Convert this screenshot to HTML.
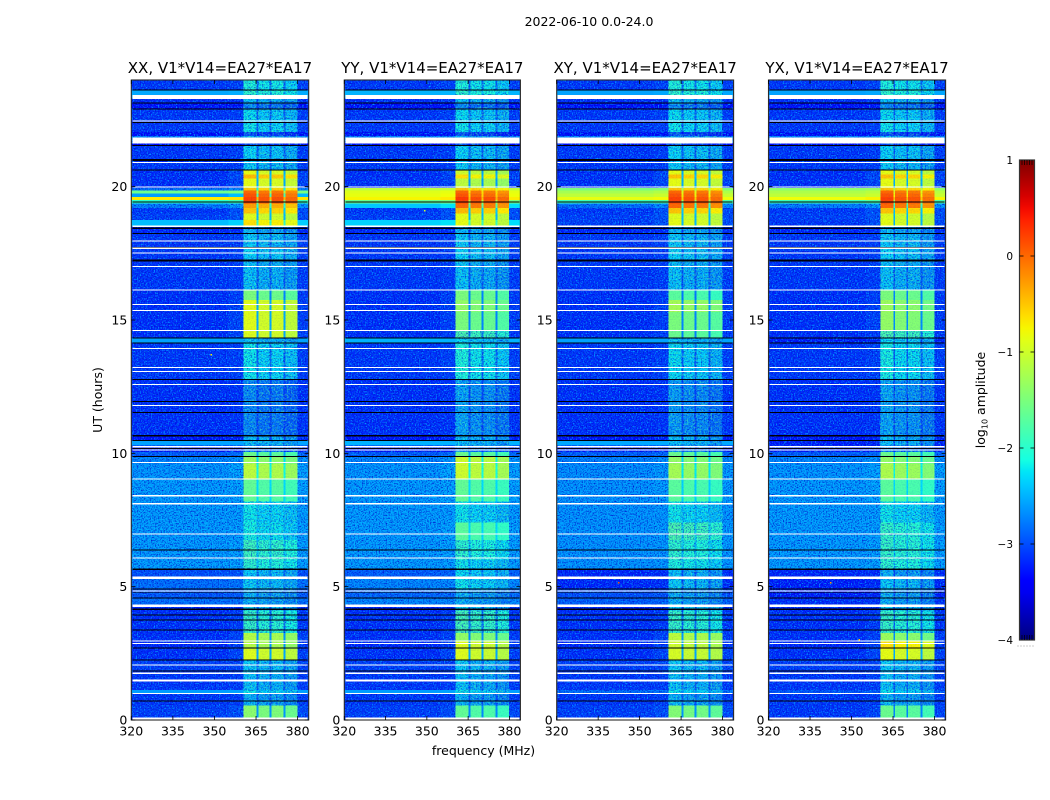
<!DOCTYPE html>
<html lang="en">
<head>
<meta charset="utf-8">
<title>2022-06-10 0.0-24.0</title>
<style>
html,body{margin:0;padding:0;background:#fff;width:1050px;height:800px;overflow:hidden}
svg{display:block}
text{font-family:"DejaVu Sans","Liberation Sans",sans-serif;fill:#000}
</style>
</head>
<body>
<svg id="figure" xmlns="http://www.w3.org/2000/svg" width="1050" height="800" viewBox="0 0 1050 800">
  <defs>
    <filter id="speck-light" x="0" y="0" width="1" height="1" color-interpolation-filters="sRGB">
      <feTurbulence type="fractalNoise" baseFrequency="0.72" numOctaves="2" seed="3"/>
      <feColorMatrix type="matrix" values="0 0 0 0 0  0 0 0 0 0.62  0 0 0 0 1  3.6 0 0 0 -1.7" />
    </filter>
    <filter id="speck-dark" x="0" y="0" width="1" height="1" color-interpolation-filters="sRGB">
      <feTurbulence type="fractalNoise" baseFrequency="0.72" numOctaves="2" seed="11"/>
      <feColorMatrix type="matrix" values="0 0 0 0 0  0 0 0 0 0.05  0 0 0 0 0.8  2.4 0 0 0 -1.05" />
    </filter>
    <filter id="speck-green" x="0" y="0" width="1" height="1" color-interpolation-filters="sRGB">
      <feTurbulence type="fractalNoise" baseFrequency="0.55" numOctaves="2" seed="23"/>
      <feColorMatrix type="matrix" values="0 0 0 0 0.3  0 0 0 0 1  0 0 0 0 0.65  3.4 0 0 0 -1.55" />
    </filter>
    <linearGradient id="jet-gradient" x1="0" y1="1" x2="0" y2="0"></linearGradient>
  </defs>
  <rect x="0" y="0" width="1050" height="800" fill="#fff"/>
  <text x="589" y="26" font-size="12.5" text-anchor="middle">2022-06-10 0.0-24.0</text>
  <text transform="translate(102 400) rotate(-90)" font-size="12.5" text-anchor="middle">UT (hours)</text>
  <text x="483.5" y="755" font-size="12.5" text-anchor="middle">frequency (MHz)</text>
  <g id="panels"></g>
  <g id="colorbar"></g>
  <text transform="translate(985 400) rotate(-90)" font-size="12.5" text-anchor="middle">log<tspan font-size="8" dy="2.5">10</tspan><tspan dy="-2.5"> amplitude</tspan></text>
</svg>
<script>
// ---- chart data (log10 amplitude) ----
const panelTitles = ['XX, V1*V14=EA27*EA17','YY, V1*V14=EA27*EA17','XY, V1*V14=EA27*EA17','YX, V1*V14=EA27*EA17'];
const xTicks = [320,335,350,365,380];
const yTicks = [0,5,10,15,20];
const colorbarTicks = [-4,-3,-2,-1,0,1];

// time-segment edges in hours (one more entry than the level arrays)
const hourEdges = [0,0.55,0.71,1.0,1.13,1.85,2.25,2.67,2.97,3.27,4.1,4.3,4.58,4.92,5.3,5.65,6.0,6.75,7.4,8.2,9.05,9.6,9.88,10.05,10.3,10.48,10.66,12.77,14.16,14.32,14.62,15.3,15.75,16.1,17.24,17.7,18.25,18.5,18.75,19.0,19.2,19.37,19.5,19.62,19.75,19.85,19.95,20.3,20.45,20.63,21.0,21.54,21.63,21.9,22.05,22.4,22.92,23.13,23.3,23.6,24];

// off-band background level per segment
const bgXX = [-3.1,-3.15,-3.15,-2.6,-3.15,-3.1,-3.2,-3.25,-3.2,-3.2,-3.25,-2.8,-2.95,-2.8,-3.0,-2.52,-2.52,-2.52,-2.52,-2.52,-2.55,-2.65,-2.9,-3.3,-2.58,-3.35,-3.2,-3.15,-2.58,-3.2,-3.2,-3.2,-3.2,-3.15,-3.15,-3.15,-3.25,-2.45,-3.1,-3.15,-2.7,-2.0,-0.7,-2.6,-1.6,-2.8,-3.2,-3.2,-3.2,-3.15,-3.15,-3.4,-2.65,-3.4,-3.15,-3.15,-3.4,-3.2,-2.55,-3.15];
const bgYY = [-3.1,-3.15,-3.15,-2.6,-3.15,-3.1,-3.2,-3.25,-3.2,-3.2,-3.25,-2.65,-2.85,-2.65,-2.9,-2.52,-2.52,-2.52,-2.52,-2.52,-2.55,-2.65,-2.9,-3.3,-2.5,-3.35,-3.2,-3.15,-2.5,-3.2,-3.2,-3.2,-3.2,-3.15,-3.15,-3.15,-3.25,-2.35,-3.1,-3.15,-2.4,-1.6,-0.75,-0.85,-0.9,-1.1,-3.2,-3.2,-3.2,-3.15,-3.15,-3.4,-2.65,-3.4,-3.15,-3.15,-3.4,-3.2,-2.5,-3.15];
const bgXY = [-3.1,-3.15,-3.15,-2.8,-3.15,-3.1,-3.2,-3.25,-3.2,-3.2,-3.25,-2.9,-3.0,-3.25,-3.25,-2.57,-2.57,-2.57,-2.57,-2.57,-2.6,-2.68,-2.9,-3.3,-2.55,-3.35,-3.2,-3.15,-2.58,-3.2,-3.2,-3.2,-3.2,-3.15,-3.15,-3.15,-3.25,-3.1,-3.1,-3.15,-2.8,-1.9,-0.85,-1.1,-1.25,-1.5,-3.2,-3.2,-3.2,-3.15,-3.15,-3.4,-2.65,-3.4,-3.15,-3.15,-3.4,-3.2,-2.58,-3.15];
const bgYX = [-3.15,-3.15,-3.15,-2.95,-3.15,-3.1,-3.2,-3.25,-3.2,-3.2,-3.25,-3.2,-3.3,-3.3,-3.25,-2.52,-2.52,-2.52,-2.52,-2.52,-2.55,-2.65,-2.9,-3.3,-3.3,-3.35,-3.2,-3.15,-3.3,-3.2,-3.2,-3.2,-3.2,-3.15,-3.15,-3.15,-3.25,-3.15,-3.1,-3.15,-2.7,-1.9,-0.8,-1.1,-1.2,-1.4,-3.2,-3.2,-3.2,-3.15,-3.15,-3.4,-2.65,-3.4,-3.15,-3.15,-3.4,-3.2,-2.58,-3.15];

// 360-380 MHz band level per segment
const bandXX = [-1.5,-2.55,-2.6,-2.3,-2.5,-2.45,-1.0,-1.25,-1.25,-2.05,-2.45,-2.6,-2.6,-2.45,-2.45,-2.1,-2.0,-2.25,-2.3,-1.75,-1.2,-1.4,-1.7,-2.8,-2.5,-2.5,-2.8,-2.3,-2.5,-1.0,-0.98,-0.98,-1.6,-2.5,-2.4,-2.45,-2.55,-0.75,-1.0,-0.6,-0.4,0.1,0.1,0.0,-0.1,-0.6,-0.95,-0.55,-0.95,-2.45,-2.4,-3.1,-2.6,-3.1,-2.3,-2.35,-2.8,-2.5,-2.1,-2.2];
const bandYY = [-1.75,-2.55,-2.6,-2.3,-2.5,-2.45,-1.0,-1.0,-1.45,-1.95,-2.45,-2.6,-2.6,-2.3,-2.35,-2.3,-2.1,-1.8,-2.3,-1.75,-1.1,-1.1,-1.7,-2.8,-2.5,-2.5,-2.65,-2.2,-2.4,-1.9,-1.6,-1.45,-1.6,-2.5,-2.4,-2.45,-2.55,-0.95,-0.95,-0.55,-0.1,0.1,0.15,0.0,-0.1,-0.6,-1.2,-0.75,-1.1,-2.45,-2.4,-3.1,-2.6,-3.1,-2.3,-2.35,-2.8,-2.5,-2.1,-2.2];
const bandXY = [-1.55,-2.55,-2.6,-2.3,-2.5,-2.45,-1.05,-1.1,-1.2,-2.05,-2.45,-2.6,-2.6,-2.45,-2.5,-2.2,-2.1,-1.9,-2.3,-1.8,-1.35,-1.45,-1.7,-2.8,-2.5,-2.5,-2.7,-2.35,-2.5,-1.7,-1.6,-1.35,-1.8,-2.5,-2.4,-2.45,-2.55,-0.95,-1.0,-0.6,-0.1,0.1,0.1,0.0,-0.1,-0.6,-0.95,-0.6,-0.95,-2.45,-2.4,-3.1,-2.6,-3.1,-2.3,-2.35,-2.8,-2.5,-2.1,-2.2];
const bandYX = [-1.7,-2.55,-2.6,-2.3,-2.5,-2.45,-0.95,-0.75,-1.4,-2.05,-2.45,-2.6,-2.6,-2.45,-2.6,-2.1,-2.05,-2.05,-2.3,-1.8,-1.3,-1.45,-1.7,-2.8,-2.5,-2.5,-2.65,-2.25,-2.35,-1.9,-1.45,-1.4,-1.6,-2.5,-2.4,-2.45,-2.55,-0.95,-1.0,-0.6,-0.1,0.1,0.1,0.0,-0.1,-0.6,-0.95,-0.6,-0.95,-2.45,-2.4,-3.1,-2.6,-3.1,-2.3,-2.35,-2.8,-2.5,-2.1,-2.2];

// per-sub-band level offsets per panel
const subbandOffsetXX = [0.1,0.0,0.02,-0.1];
const subbandOffsetYY = [0.1,0.0,-0.02,-0.15];
const subbandOffsetXY = [0.1,0.02,0.0,-0.12];
const subbandOffsetYX = [0.1,0.0,0.0,-0.15];

// flagged (blank) and near-zero (black) integrations: hour centre, duration
const flaggedHours = [0.045,0.995,1.48,1.75,2.065,2.87,2.97,4.28,4.84,5.33,6.08,6.98,8.11,8.41,9.03,9.65,10.12,10.25,11.79,12.58,13.07,13.22,13.93,14.61,15.36,15.58,16.13,17.01,17.52,17.69,17.97,18.52,19.98,20.9,21.74,22.47,23.36];
const flaggedWidths = [0.09,0.05,0.07,0.05,0.05,0.04,0.04,0.1,0.05,0.1,0.04,0.04,0.04,0.04,0.04,0.04,0.04,0.05,0.04,0.04,0.04,0.04,0.05,0.04,0.04,0.04,0.04,0.04,0.04,0.04,0.04,0.06,0.04,0.04,0.225,0.04,0.15];
const darkHours = [0.71,1.84,2.25,2.70,3.38,3.755,3.94,4.15,4.58,4.77,4.92,5.65,6.38,9.88,10.18,10.48,10.66,11.53,11.94,12.77,14.13,14.33,17.24,17.72,18.25,18.44,19.43,20.63,21.0,21.54,22.4,22.92,23.13,23.62];
const darkWidths = [0.04,0.04,0.05,0.04,0.04,0.03,0.035,0.06,0.04,0.03,0.04,0.06,0.04,0.04,0.04,0.04,0.04,0.04,0.04,0.04,0.04,0.04,0.075,0.04,0.04,0.04,0.045,0.04,0.06,0.04,0.04,0.04,0.04,0.04];

// isolated bright pixels: panel index, MHz, hour, level
const spotPanels = [0,2,3,3,1];
const spotFreqs = [348.5,342.1,342.2,352.5,349];
const spotHours = [13.7,5.15,5.15,3.0,19.1];
const spotLevels = [-0.7,0.1,-0.3,-0.5,-1.0];

// ---- axis functions & geometry ----
const NS = 'http://www.w3.org/2000/svg';
const bgSeries = [bgXX,bgYY,bgXY,bgYX];
const bandSeries = [bandXX,bandYY,bandXY,bandYX];
const offsetSeries = [subbandOffsetXX,subbandOffsetYY,subbandOffsetXY,subbandOffsetYX];
const panelBoxes = [{l:131.3,r:308.7},{l:344.3,r:520.4},{l:556.7,r:733.6},{l:768.5,r:945.6}];
const plotTop = 80, plotBottom = 720;
const freqMin = 320, freqMax = 384, hourMax = 24;
const smoothBgLimit = -2.62, smoothBandLimit = -1.85;
const speckledSpan = [5.65, 9.88];
const yOf = h => plotBottom - (h / hourMax) * (plotBottom - plotTop);
const xOf = (box, f) => box.l + (f - freqMin) / (freqMax - freqMin) * (box.r - box.l);
const subbandEdges = [[360.4,365.1],[365.8,369.8],[370.5,374.9],[375.6,379.9]];
const gapEdges = [[365.1,365.8],[369.8,370.5],[374.9,375.6]];

function pw(t, pts){
  for (let i = 1; i < pts.length; i++) {
    if (t <= pts[i][0]) {
      const a = pts[i-1], b = pts[i];
      return a[1] + (b[1]-a[1]) * (t-a[0]) / (b[0]-a[0]);
    }
  }
  return pts[pts.length-1][1];
}
const R = [[0,0],[0.35,0],[0.66,1],[0.89,1],[1,0.5]];
const G = [[0,0],[0.125,0],[0.375,1],[0.64,1],[0.91,0],[1,0]];
const B = [[0,0.5],[0.11,1],[0.34,1],[0.65,0],[1,0]];
function jet(v){
  const t = Math.max(0, Math.min(1, (v + 4) / 5));
  return 'rgb(' + Math.round(255*pw(t,R)) + ',' + Math.round(255*pw(t,G)) + ',' + Math.round(255*pw(t,B)) + ')';
}
function make(tag, parent, attrs){
  const el = document.createElementNS(NS, tag);
  for (const k in attrs) el.setAttribute(k, attrs[k]);
  parent.appendChild(el);
  return el;
}
function cell(parent, box, f0, f1, h0, h1, v){
  const x0 = xOf(box, f0), x1 = xOf(box, f1), y0 = yOf(h1), y1 = yOf(h0);
  const el = make('rect', parent, {x:x0, y:y0, width:x1-x0, height:y1-y0, fill:jet(v), 'shape-rendering':'crispEdges'});
  
  
}
function line(parent, x1, y1, x2, y2, stroke, w){
  const el = make('line', parent, {x1:x1, y1:y1, x2:x2, y2:y2, stroke:stroke, 'stroke-width':w});
  
  
  return el;
}
function label(parent, x, y, str, anchor, size){
  const el = make('text', parent, {x:x, y:y, 'text-anchor':anchor, 'font-size':size});
  el.textContent = str;
  
  
  return el;
}
function speckle(g, x0, x1, filterId, opacity){
  const t = make('rect', g, {x:x0, y:plotTop, width:x1-x0, height:plotBottom-plotTop, filter:'url(#'+filterId+')', opacity:opacity});
  
  
}

// ---- panels ----
const panelsG = document.getElementById('panels');
panelBoxes.forEach((box, p) => {
  const g = make('g', panelsG, {});
  
  
  const bg = bgSeries[p], band = bandSeries[p], off = offsetSeries[p];
  const drawRows = smooth => {
    for (let i = 0; i < bg.length; i++) {
      const h0 = hourEdges[i], h1 = hourEdges[i+1];
      const inSpan = h0 >= speckledSpan[0] && h1 <= speckledSpan[1];
      if ((bg[i] >= smoothBgLimit && !inSpan) === smooth) {
        cell(g, box, freqMin, 355, h0, h1, bg[i]);
        cell(g, box, 355, 360.4, h0, h1, bg[i] + 0.06 * (band[i] - bg[i]));
        cell(g, box, 379.9, freqMax, h0, h1, bg[i] + 0.05 * (band[i] - bg[i]));
      }
      if ((band[i] >= smoothBandLimit) === smooth) {
        subbandEdges.forEach((e, s) => cell(g, box, e[0], e[1], h0, h1, band[i] + off[s]));
        gapEdges.forEach(e => cell(g, box, e[0], e[1], h0, h1, bg[i] + 0.3 * (band[i] - bg[i])));
      }
    }
  };
  const bandL = xOf(box, 360.4), bandR = xOf(box, 379.9);
  // noisy, faint segments get full speckle; bright ones stay smooth
  drawRows(false);
  [[box.l, bandL],[bandR, box.r]].forEach(s => {
    speckle(g, s[0], s[1], 'speck-light', 1);
    speckle(g, s[0], s[1], 'speck-dark', 1);
  });
  speckle(g, bandL, bandR, 'speck-dark', 0.8);
  speckle(g, bandL, bandR, 'speck-green', 0.5);
  drawRows(true);
  speckle(g, bandL, bandR, 'speck-dark', 0.12);
  // isolated spots
  spotPanels.forEach((sp, i) => {
    if (sp !== p) return;
    cell(g, box, spotFreqs[i], spotFreqs[i] + 0.6, spotHours[i] - 0.03, spotHours[i] + 0.03, spotLevels[i]);
  });
  // black and flagged integrations
  darkHours.forEach((h, i) => {
    const y0 = yOf(h + darkWidths[i] / 2), y1 = yOf(h - darkWidths[i] / 2);
    const el = make('rect', g, {x:box.l + 1, y:y0, width:box.r - box.l - 2, height:y1 - y0, fill:'#000008', 'shape-rendering':'crispEdges'});
    
    
  });
  flaggedHours.forEach((h, i) => {
    const y0 = yOf(h + flaggedWidths[i] / 2), y1 = yOf(h - flaggedWidths[i] / 2);
    const el = make('rect', g, {x:box.l + 1, y:y0, width:box.r - box.l - 2, height:y1 - y0, fill:'#fff', 'shape-rendering':'crispEdges'});
    
    
  });
  // frame
  const frame = make('rect', g, {x:box.l, y:plotTop, width:box.r-box.l, height:plotBottom-plotTop, fill:'none', stroke:'#2a2a2a', 'stroke-width':1.1});
  
  
  // ticks
  xTicks.forEach(f => {
    const x = xOf(box, f);
    line(g, x, plotBottom, x, plotBottom - 4, '#000', 0.8);
    line(g, x, plotTop, x, plotTop + 4, '#000', 0.8);
    label(g, x, 735.5, String(f), 'middle', 12.5);
  });
  yTicks.forEach(h => {
    const y = yOf(h);
    line(g, box.l, y, box.l + 4, y, '#000', 0.8);
    line(g, box.r, y, box.r - 4, y, '#000', 0.8);
    label(g, box.l - 4, y + 4.5, String(h), 'end', 12.5);
  });
  const ttl = make('text', g, {x:(box.l + box.r) / 2, y:73, 'text-anchor':'middle', 'font-size':15});
  ttl.textContent = panelTitles[p];
  
  
});

// ---- colorbar ----
const grad = document.getElementById('jet-gradient');
for (let i = 0; i <= 40; i++) {
  make('stop', grad, {offset:(i/40), 'stop-color':jet(-4 + 5 * i / 40)});
}
const cbG = document.getElementById('colorbar');
const cbL = 1019.5, cbR = 1034.5, cbT = 160, cbB = 640;
const cbY = v => cbB - (v + 4) / 5 * (cbB - cbT);
const cbRect = make('rect', cbG, {x:cbL, y:cbT, width:cbR-cbL, height:cbB-cbT, fill:'url(#jet-gradient)', stroke:'#333', 'stroke-width':1.2});


colorbarTicks.forEach(v => {
  const y = cbY(v);
  if (v > -4 && v < 1) {
    line(cbG, cbL, y, cbL + 4, y, '#000', 0.8);
    line(cbG, cbR, y, cbR - 4, y, '#000', 0.8);
  }
  label(cbG, 1013, y + 4, (v < 0 ? '\u2212' : '') + Math.abs(v), 'end', 10.5);
});
[1,2,3,4,5].forEach(k => {
  const x = cbL + k * 2.5;
  line(cbG, x, cbT, x, cbT + 5, '#000', 0.7);
  line(cbG, x, cbB, x, cbB - 5, '#000', 0.7);
});
const dots = make('line', cbG, {x1:1017.5, y1:646, x2:1035, y2:646, stroke:'#999', 'stroke-width':1, 'stroke-dasharray':'1 2'});


</script>
</body>
</html>
